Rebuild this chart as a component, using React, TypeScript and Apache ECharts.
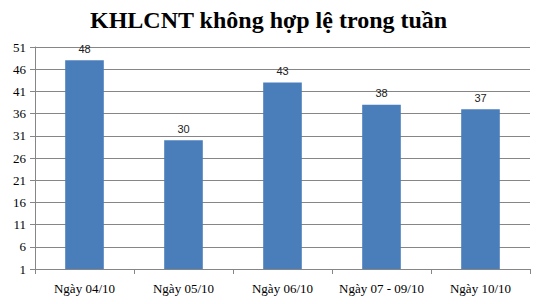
import React, { useEffect, useRef } from "react";
import * as echarts from "echarts";

const titleText = "KHLCNT không hợp lệ trong tuần";
const categories = ["Ngày 04/10", "Ngày 05/10", "Ngày 06/10", "Ngày 07 - 09/10", "Ngày 10/10"];
const values = [48, 30, 43, 38, 37];
const yMin = 1;
const yMax = 51;
const yInterval = 5;

export default function App() {
  const ref = useRef<HTMLDivElement>(null);
  useEffect(() => {
    const chart = echarts.init(ref.current!, null, { renderer: "svg" });
    chart.setOption({
      animation: false,
      backgroundColor: "#ffffff",
      title: {
        text: titleText,
        left: 85,
        top: 3,
        textStyle: { fontFamily: "Liberation Serif", fontWeight: "bold", fontSize: 24, color: "#000" },
      },
      grid: { left: 35, right: 12, top: 47, bottom: 35, containLabel: false },
      xAxis: {
        type: "category",
        data: categories,
        axisLine: { lineStyle: { color: "#868686" } },
        axisTick: { show: true, length: 5, alignWithLabel: false, lineStyle: { color: "#868686" } },
        axisLabel: { interval: 0, fontFamily: "Liberation Serif", fontSize: 13, color: "#000", margin: 13 },
      },
      yAxis: {
        type: "value",
        min: yMin,
        max: yMax,
        interval: yInterval,
        axisLine: { show: true, lineStyle: { color: "#868686" } },
        axisTick: { show: true, length: 5, lineStyle: { color: "#868686" } },
        splitLine: { lineStyle: { color: "#868686" } },
        axisLabel: { fontFamily: "Liberation Serif", fontSize: 13, color: "#000", margin: 9 },
      },
      series: [
        {
          type: "bar",
          data: values,
          clip: true,
          barWidth: "39%",
          itemStyle: { color: "#4A7EBB" },
          label: {
            show: true,
            position: "top",
            distance: 6,
            fontFamily: "Liberation Sans",
            fontSize: 11,
            color: "#222",
          },
        },
      ],
    });
    return () => chart.dispose();
  }, []);
  return <div ref={ref} style={{ width: 542, height: 304, position: "absolute", left: 0, top: 0 }} />;
}
